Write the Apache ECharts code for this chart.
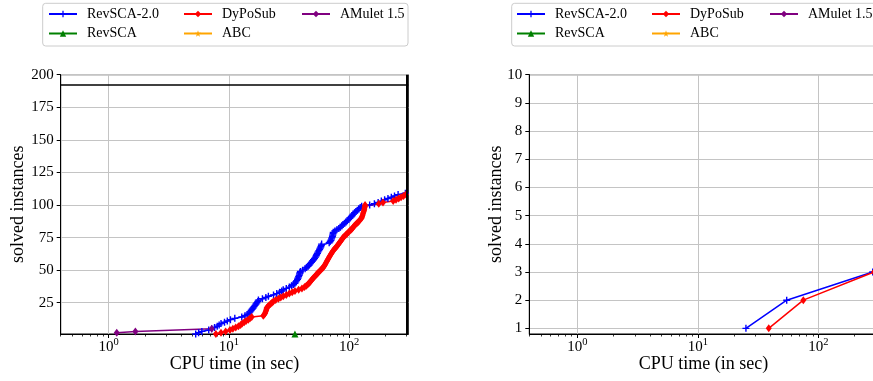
<!DOCTYPE html>
<html>
<head>
<meta charset="utf-8">
<script src="https://cdn.jsdelivr.net/npm/echarts@6/dist/echarts.min.js"></script>
<style>
  html, body { margin: 0; padding: 0; background: #fff; }
  #chart { width: 873px; height: 381px; }
</style>
</head>
<body>
<div id="chart"></div>
<script>
// solve times (sec) per instance, sorted -> cactus plot (y = number solved)
const revsca2Times = [5.3, 5.6, 5.96, 6.8, 7.2, 7.6, 8.0, 8.3, 8.6, 9.2,
  9.7, 10.3, 11.2, 12.8, 13.6, 14.2, 14.7, 15.0, 15.3, 15.6,
  15.9, 16.2, 16.5, 16.8, 17.1, 17.4, 17.6, 19.0, 20.3, 21.3,
  23.5, 25.0, 26.4, 27.5, 28.3, 30.0, 31.8, 33.2, 34.5, 35.4,
  36.0, 36.6, 37.2, 37.6, 38.0, 38.4, 38.7, 39.0, 39.3, 41.0,
  43.0, 44.3, 45.5, 46.5, 47.5, 48.5, 49.5, 50.5, 51.5, 52.5,
  53.2, 53.7, 54.5, 55.2, 56.0, 56.8, 57.5, 58.2, 58.7, 59.0,
  68.2, 69.5, 70.5, 71.3, 72.0, 72.6, 73.1, 73.5, 73.7, 76.0,
  79.0, 82.0, 84.5, 87.0, 89.0, 91.5, 94.0, 96.5, 99.0, 101.5,
  104.0, 106.0, 108.0, 111.0, 114.0, 117.0, 120.0, 123.5, 127.0, 148.0,
  162.0, 174.0, 185.0, 197.0, 210.0, 224.0, 238.0, 255.0, 293.0];
const dyposubTimes = [7.8, 8.6, 9.4, 10.2, 10.8, 11.4, 12.0, 12.5, 12.9, 13.4,
  13.9, 14.5, 15.0, 15.5, 19.3, 19.7, 20.0, 20.2, 20.4, 20.5,
  20.6, 21.0, 21.6, 22.2, 22.8, 23.4, 24.5, 25.8, 27.0, 28.3,
  30.0, 31.8, 33.6, 35.4, 38.0, 40.5, 42.5, 44.0, 45.2, 46.3,
  47.3, 48.3, 49.3, 50.3, 51.5, 52.8, 54.0, 55.2, 56.5, 57.8,
  59.3, 60.9, 61.8, 62.7, 63.6, 64.5, 65.4, 66.3, 67.2, 68.2,
  69.3, 70.3, 71.3, 72.4, 73.7, 75.2, 76.8, 78.4, 80.0, 81.5,
  83.0, 84.5, 86.0, 87.5, 89.0, 91.2, 93.5, 96.0, 98.5, 101.0,
  103.5, 106.0, 108.0, 110.5, 113.0, 116.0, 119.0, 121.5, 124.0, 127.0,
  128.0, 129.0, 130.0, 131.0, 132.0, 133.0, 133.8, 134.4, 135.0, 135.5,
  176.0, 191.0, 232.0, 245.0, 258.0, 270.0, 283.0, 296.0];
const revscaTimes = [35.4];
const abcTimes = [];
const amuletTimes = [1.17, 1.67, 7.2];
const amuletCounts = [2, 3, 5];

// second panel
const rightRevsca2Times = [25.1, 54.7, 283];
const rightDyposubTimes = [38.8, 75.1, 290];

const totalInstances = 192;
const timeout = 300;

const xMajorTicks = [1, 10, 100];
const xMinorTicks = [0.4, 0.5, 0.6, 0.7, 0.8, 0.9, 2, 3, 4, 5, 6, 7, 8, 9,
  20, 30, 40, 50, 60, 70, 80, 90, 200, 300];
const leftYTicks = [25, 50, 75, 100, 125, 150, 175, 200];
const rightYTicks = [1, 2, 3, 4, 5, 6, 7, 8, 9, 10];

const names = ["RevSCA-2.0", "RevSCA", "DyPoSub", "ABC", "AMulet 1.5"];
const colors = ["#0000ff", "#008000", "#ff0000", "#ffa500", "#800080"];

const FONT = "Liberation Serif";
const PLUS = "path://M2.8,0H4.2V2.8H7V4.2H4.2V7H2.8V4.2H0V2.8H2.8Z";
const STAR = "path://M5,0L6.2,3.6L10,3.6L6.9,5.8L8.1,9.5L5,7.2L1.9,9.5L3.1,5.8L0,3.6L3.8,3.6Z";
const symbols = [PLUS, "triangle", "diamond", STAR, "diamond"];
const symbolSizes = [[7, 7], [7, 7], [6, 8], [8, 8], [6, 8]];

const toPoints = (times, counts) => times.map((t, i) => [t, counts ? counts[i] : i + 1]);

const grids = [
  { left: 60.7, top: 74.7, width: 347.6, height: 259.3 },
  { left: 529.3, top: 74.7, width: 348.2, height: 259.3 },
];

function xAxes(gridIndex) {
  return [
    {
      type: "log", gridIndex, min: 0.4, max: 310, position: "bottom",
      name: "CPU time (in sec)", nameLocation: "middle", nameGap: 21, nameMoveOverlap: false,
      nameTextStyle: { fontFamily: FONT, fontSize: 18, color: "#000" },
      axisLine: { show: true, onZero: false, lineStyle: { color: "#000", width: 1 } },
      axisTick: { show: true, length: 4, customValues: xMajorTicks, lineStyle: { color: "#000" } },
      axisLabel: {
        customValues: xMajorTicks, margin: 3,
        formatter: (v) => "{b|10}{e|" + Math.round(Math.log10(v)) + "}",
        rich: {
          b: { fontFamily: FONT, fontSize: 15, color: "#000" },
          e: { fontFamily: FONT, fontSize: 10.5, color: "#000", padding: [0, 0, 9, 0] },
        },
      },
      splitLine: { show: true, lineStyle: { color: "#c4c4c4", width: 1 } },
    },
    {
      type: "log", gridIndex, min: 0.4, max: 310, position: "bottom",
      axisLine: { show: false },
      axisTick: { show: true, length: 2.5, customValues: xMinorTicks, lineStyle: { color: "#000", width: 0.8 } },
      axisLabel: { show: false },
      splitLine: { show: false },
    },
  ];
}

function yAxis(gridIndex, min, max, ticks, nameGap) {
  return {
    type: "value", gridIndex, min, max,
    name: "solved instances", nameLocation: "middle", nameGap, nameMoveOverlap: false,
    nameTextStyle: { fontFamily: FONT, fontSize: 18, color: "#000" },
    axisLine: { show: true, onZero: false, lineStyle: { color: "#000", width: 1 } },
    axisTick: { show: true, length: 4, customValues: ticks, lineStyle: { color: "#000" } },
    axisLabel: { customValues: ticks, margin: 7, fontFamily: FONT, fontSize: 15, color: "#000" },
    splitLine: { show: true, lineStyle: { color: "#c4c4c4", width: 1 } },
  };
}

function makeSeries(idx, data, xAxisIndex, yAxisIndex) {
  return {
    name: names[idx], type: "line", xAxisIndex, yAxisIndex, data,
    symbol: symbols[idx], symbolSize: symbolSizes[idx],
    color: colors[idx],
    lineStyle: { width: 1.5, color: colors[idx] },
    itemStyle: { color: colors[idx] },
    emphasis: { disabled: true },
    animation: false,
  };
}

const leftSeries = [
  makeSeries(0, toPoints(revsca2Times), 0, 0),
  makeSeries(1, toPoints(revscaTimes), 0, 0),
  makeSeries(2, toPoints(dyposubTimes), 0, 0),
  makeSeries(3, toPoints(abcTimes), 0, 0),
  makeSeries(4, toPoints(amuletTimes, amuletCounts), 0, 0),
];
leftSeries[0].markLine = {
  silent: true, symbol: "none", animation: false,
  label: { show: false },
  lineStyle: { color: "#000", width: 1.5, type: "solid" },
  data: [{ yAxis: totalInstances }, { xAxis: timeout, lineStyle: { width: 2 } }],
};
// draw the markers of the first series above the others
leftSeries[0].z = 3;

const rightSeries = [
  makeSeries(0, toPoints(rightRevsca2Times), 2, 1),
  makeSeries(1, [], 2, 1),
  makeSeries(2, toPoints(rightDyposubTimes), 2, 1),
  makeSeries(3, [], 2, 1),
  makeSeries(4, [], 2, 1),
];

function legendColumns(x0) {
  const cols = [[names[0], names[1]], [names[2], names[3]], [names[4]]];
  const offsets = [0, 135, 253];
  return cols.map((data, i) => ({
    orient: "vertical", left: x0 + offsets[i], top: 7, padding: 0,
    itemWidth: 28, itemHeight: 8, itemGap: 5.5,
    data, selectedMode: false,
    textStyle: { fontFamily: FONT, fontSize: 14, color: "#000", lineHeight: 14, padding: [0, 0, 0, 5] },
  }));
}

const option = {
  animation: false,
  backgroundColor: "#fff",
  grid: grids.map((g) => ({ ...g, show: true, borderColor: "#000", borderWidth: 1, outerBoundsMode: "none" })),
  xAxis: [...xAxes(0), ...xAxes(1)],
  yAxis: [
    yAxis(0, 1, 200, leftYTicks, 33),
    yAxis(1, 0.8, 10, rightYTicks, 24),
  ],
  legend: [...legendColumns(48), ...legendColumns(516)],
  graphic: [
    { type: "rect", shape: { x: 42.7, y: 3.3, width: 365.3, height: 42.7, r: 3 }, style: { fill: "#fff", stroke: "#cccccc", lineWidth: 1 }, z: 0 },
    { type: "rect", shape: { x: 511.7, y: 3.3, width: 365.3, height: 42.7, r: 3 }, style: { fill: "#fff", stroke: "#cccccc", lineWidth: 1 }, z: 0 },
  ],
  series: [...leftSeries, ...rightSeries],
};

const chart = echarts.init(document.getElementById("chart"), null, { renderer: "canvas" });
chart.setOption(option);
</script>
</body>
</html>
